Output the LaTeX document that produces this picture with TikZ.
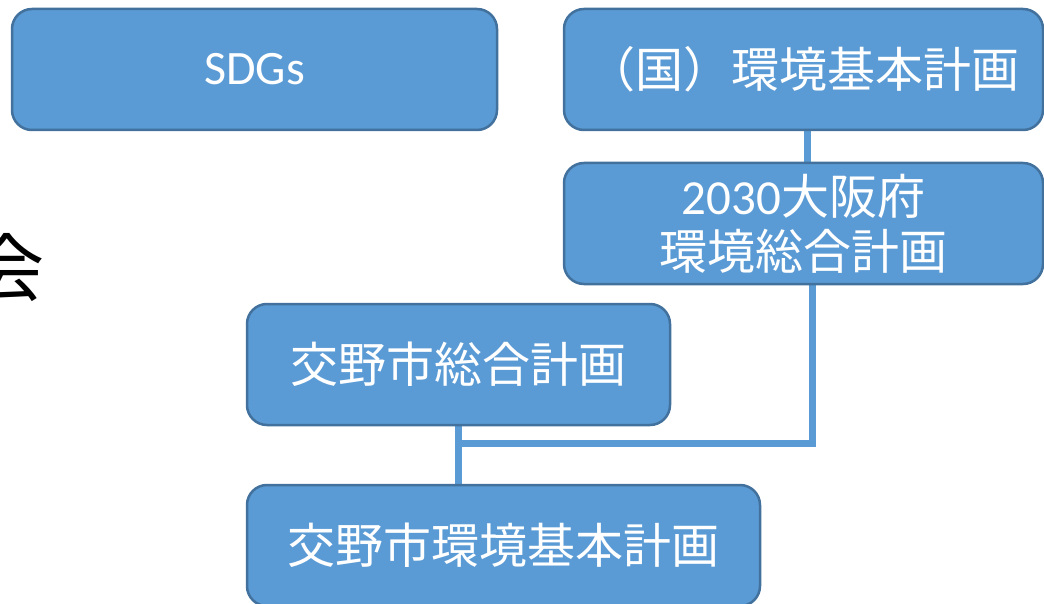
\documentclass[tikz,border=0pt]{standalone}
\usepackage{fontspec}
\newfontfamily\jp{Noto Sans CJK JP}
\newfontfamily\lat{Carlito}
\usetikzlibrary{backgrounds}
\definecolor{boxfill}{HTML}{5B9BD5}
\definecolor{boxline}{HTML}{41719C}
\begin{document}
\begin{tikzpicture}[x=1pt,y=-1pt,
  box/.style={draw=boxline,line width=2.5pt,fill=boxfill,rounded corners=20pt,
    text=white,font=\jp\fontsize{48}{55}\selectfont,align=center,inner sep=0pt},
  link/.style={draw=boxfill,line width=7pt}]
\useasboundingbox (0,0) rectangle (1044,604);
\clip (0,0) rectangle (1044,604);
\node[font=\jp\fontsize{74}{74}\selectfont] (kai) at (8,268) {会};
\node[box,minimum width=485pt,minimum height=121pt] (sdgs) at (254.5,69.5) {\lat\fontsize{48}{55}\selectfont SDGs};
\node[box,minimum width=479pt,minimum height=121pt] (kuni) at (803.5,69.5) {（国）環境基本計画};
\node[box,minimum width=479pt,minimum height=121pt] (osaka) at (803.5,223.5) {{\lat\fontsize{49}{55}\selectfont 2030}大阪府\\環境総合計画};
\node[box,minimum width=423pt,minimum height=121pt] (sogo) at (458.5,364.5) {交野市総合計画};
\node[box,minimum width=513pt,minimum height=121pt] (kankyo) at (503.5,545.5) {交野市環境基本計画};
\coordinate (joint) at (459,443.5);
\begin{scope}[on background layer]
\draw[link] ([xshift=3.5pt]kuni.south) -- ([xshift=3.5pt]osaka.north);
\draw[link,line cap=rect] ([xshift=8.5pt]osaka.south) |- (joint);
\draw[link] (sogo.south) -- (kankyo.north -| sogo.south);
\end{scope}
\end{tikzpicture}
\end{document}
